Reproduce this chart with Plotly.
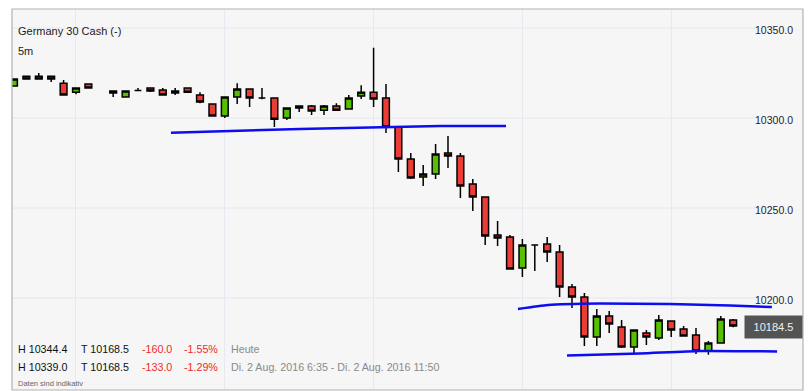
import plotly.graph_objects as go

# ---------------- data ----------------
day = "2016-08-02 "
times = ["06:35", "06:40", "06:45", "06:50", "06:55", "07:00", "07:05",
         "07:15", "07:20", "07:25", "07:30", "07:35", "07:40", "07:45", "07:50", "07:55",
         "08:00", "08:05", "08:10", "08:15", "08:20", "08:25", "08:30", "08:35", "08:40",
         "08:45", "08:50", "08:55", "09:00", "09:05", "09:10", "09:15", "09:20", "09:25",
         "09:30", "09:35", "09:40", "09:45", "09:50", "09:55", "10:00", "10:05", "10:10",
         "10:15", "10:20", "10:25", "10:30", "10:35", "10:40", "10:45", "10:50", "10:55",
         "11:00", "11:05", "11:10", "11:15", "11:20", "11:25"]
opens = [10317.8, 10323.3, 10323.3, 10323.3, 10319.4, 10314.4, 10318.9,
         10315.0, 10311.7, 10315.3, 10316.7, 10315.6, 10313.9, 10316.7, 10312.8, 10307.8,
         10301.1, 10311.7, 10316.1, 10311.1, 10311.1, 10300.0, 10305.6, 10306.7, 10304.4,
         10306.7, 10305.0, 10312.2, 10314.4, 10311.1, 10295.0, 10277.2, 10267.2, 10268.9,
         10280.6, 10278.9, 10263.3, 10256.1, 10235.0, 10233.9, 10216.7, 10229.4, 10230.0,
         10225.6, 10206.1, 10200.6, 10178.3, 10190.0, 10183.9, 10172.8, 10180.6, 10177.8,
         10187.2, 10182.8, 10179.4, 10170.6, 10175.0, 10187.8]
highs = [10322.0, 10323.5, 10325.0, 10323.5, 10321.1, 10317.0, 10319.0,
         10315.2, 10315.3, 10316.7, 10317.0, 10316.7, 10316.7, 10317.0, 10314.4, 10308.0,
         10312.0, 10319.4, 10316.3, 10316.7, 10311.3, 10305.8, 10307.0, 10307.2, 10307.2,
         10308.3, 10312.8, 10318.3, 10339.0, 10318.9, 10295.2, 10280.6, 10273.9, 10285.6,
         10290.0, 10280.6, 10266.1, 10256.3, 10242.8, 10235.0, 10232.8, 10229.6, 10233.9,
         10229.4, 10207.8, 10202.8, 10193.9, 10192.8, 10187.8, 10182.4, 10182.2, 10190.6,
         10187.4, 10184.4, 10183.3, 10176.1, 10190.0, 10188.3]
lows = [10317.5, 10321.5, 10321.5, 10320.0, 10312.5, 10313.3, 10316.5,
        10311.7, 10311.5, 10315.0, 10314.5, 10312.5, 10312.8, 10314.0, 10308.3, 10301.0,
        10300.0, 10307.8, 10306.1, 10310.5, 10295.0, 10298.9, 10303.3, 10301.7, 10301.7,
        10304.2, 10304.8, 10310.6, 10306.1, 10291.7, 10270.0, 10266.1, 10262.2, 10266.1,
        10272.2, 10255.6, 10248.3, 10229.4, 10228.9, 10216.0, 10211.7, 10215.0, 10220.0,
        10200.6, 10194.4, 10173.3, 10173.3, 10180.6, 10172.2, 10169.4, 10173.9, 10176.7,
        10178.3, 10178.7, 10168.9, 10168.5, 10174.8, 10183.7]
closes = [10321.7, 10321.7, 10321.7, 10321.7, 10312.8, 10316.7, 10316.7,
          10313.9, 10315.0, 10315.3, 10315.0, 10312.8, 10315.0, 10314.4, 10308.9, 10301.1,
          10311.7, 10316.1, 10311.1, 10311.1, 10299.4, 10305.6, 10306.7, 10303.9, 10306.7,
          10304.4, 10311.1, 10314.4, 10310.6, 10295.0, 10277.2, 10266.7, 10268.9, 10280.0,
          10278.9, 10262.2, 10256.1, 10234.4, 10233.3, 10216.1, 10229.4, 10229.4, 10225.6,
          10206.1, 10200.6, 10178.3, 10190.0, 10185.6, 10172.8, 10182.2, 10178.3, 10187.8,
          10182.2, 10178.9, 10170.6, 10175.0, 10188.3, 10184.5]

# user-drawn trend lines (time, price)
trend1_t = ["07:38:18", "08:30:18", "08:58:30", "09:26:48", "09:53:24"]
trend1_p = [10291.9, 10293.9, 10294.7, 10295.6, 10295.6]
trend2_t = ["09:58:13", "10:10:18", "10:31:18", "10:59:30", "11:23:42", "11:40:36"]
trend2_p = [10193.9, 10196.1, 10196.9, 10196.7, 10195.8, 10195.0]
trend3_t = ["10:18:00", "10:47:24", "11:11:36", "11:42:42"]
trend3_p = [10168.1, 10169.2, 10170.6, 10170.3]

y_ticks = [10200, 10250, 10300, 10350]
last_price = 10184.5
x_range = ["2016-08-02 06:34:12", "2016-08-02 11:53:09"]
y_range = [10148.9, 10360.6]

title = "Germany 30 Cash (-)"
interval = "5m"
row1 = ["H 10344.4", "T 10168.5", "-160.0", "-1.55%", "Heute"]
row2 = ["H 10339.0", "T 10168.5", "-133.0", "-1.29%",
        "Di. 2 Aug. 2016 6:35 - Di. 2 Aug. 2016 11:50"]
footnote = "Daten sind indikativ"

# ---------------- figure ----------------
W, H = 811, 391
ML, MR, MT, MB = 12, 8, 9, 1
PW, PH = W - ML - MR, H - MT - MB
FONT = "Arial, Liberation Sans, sans-serif"


def px_x(px):
    return (px - ML) / PW


def px_y(py):
    return (H - MB - py) / PH


fig = go.Figure()

fig.add_trace(go.Candlestick(
    x=[day + t for t in times], open=opens, high=highs, low=lows, close=closes,
    increasing=dict(fillcolor="#55bf00", line=dict(color="#000000", width=1.5)),
    decreasing=dict(fillcolor="#ec3c36", line=dict(color="#000000", width=1.5)),
    whiskerwidth=0, hoverinfo="skip", showlegend=False,
))

for tt, pp in [(trend1_t, trend1_p), (trend2_t, trend2_p), (trend3_t, trend3_p)]:
    fig.add_trace(go.Scatter(
        x=[day + t for t in tt], y=pp, mode="lines",
        line=dict(color="#0d0df0", width=2.5, shape="spline", smoothing=0.5),
        hoverinfo="skip", showlegend=False,
    ))

shapes = []
for v in y_ticks:
    shapes.append(dict(type="line", xref="paper", yref="y", x0=0, x1=0.94, y0=v, y1=v,
                       line=dict(color="#e6e6ee", width=1), layer="below"))
shapes.append(dict(type="rect", xref="paper", yref="paper", x0=0, x1=1, y0=0, y1=1,
                   line=dict(color="#b2b2b2", width=1.2), layer="above"))

annotations = [
    dict(text=title, x=px_x(16), y=px_y(31), xref="paper", yref="paper",
         xanchor="left", yanchor="middle", showarrow=False,
         font=dict(family=FONT, size=11, color="#1a1a1a")),
    dict(text=interval, x=px_x(16), y=px_y(51), xref="paper", yref="paper",
         xanchor="left", yanchor="middle", showarrow=False,
         font=dict(family=FONT, size=11, color="#1a1a1a")),
    dict(text=f"{last_price:.1f}", x=1, y=last_price, xref="paper", yref="y",
         xanchor="right", yanchor="middle", showarrow=False, bgcolor="#545454",
         width=53, height=18, borderpad=2, xshift=0, yshift=-1,
         font=dict(family=FONT, size=11, color="#f0f0f0")),
    dict(text=footnote, x=px_x(16), y=px_y(383), xref="paper", yref="paper",
         xanchor="left", yanchor="middle", showarrow=False,
         font=dict(family=FONT, size=7.5, color="#666666")),
]
col_x = [16, 79, 140, 182, 229]
col_c = ["#111111", "#111111", "#ee2a2a", "#ee2a2a", "#8a8a8a"]
for row, yy in [(row1, 349), (row2, 367)]:
    for txt, cx, cc in zip(row, col_x, col_c):
        annotations.append(dict(text=txt, x=px_x(cx), y=px_y(yy), xref="paper", yref="paper",
                                xanchor="left", yanchor="middle", showarrow=False,
                                font=dict(family=FONT, size=10.7, color=cc)))

fig.update_layout(
    width=W, height=H,
    margin=dict(l=ML, r=MR, t=MT, b=MB, pad=0),
    paper_bgcolor="#ffffff", plot_bgcolor="#f6f6f6",
    font=dict(family=FONT, size=11, color="#222222"),
    showlegend=False, hovermode=False, boxgap=0.22,
    shapes=shapes, annotations=annotations,
    xaxis=dict(type="date", range=x_range, rangeslider=dict(visible=False),
               showgrid=True, gridcolor="#e8e8f0", gridwidth=1,
               tick0="2016-08-02 07:00", dtick=3600000,
               showticklabels=False, ticks="", zeroline=False, showline=False),
    yaxis=dict(range=y_range, side="right", ticklabelposition="inside",
               tickvals=y_ticks, tickformat=".1f", showgrid=False, zeroline=False,
               ticks="", showline=False, ticklabelstandoff=7, ticklabelshift=2,
               tickfont=dict(family=FONT, size=10.5, color="#222233")),
)

fig.write_html("out.html")
